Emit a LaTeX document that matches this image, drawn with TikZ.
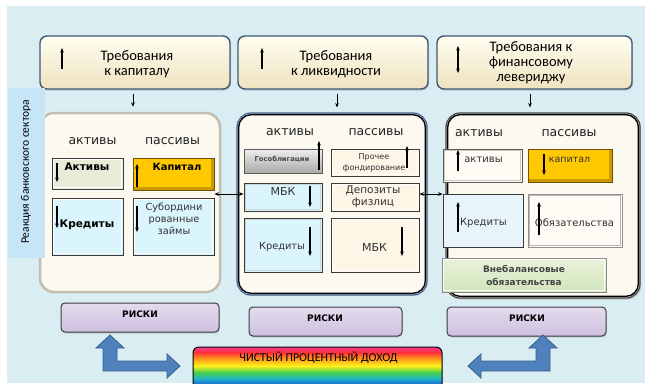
\documentclass[tikz,border=0pt]{standalone}
\usepackage{fontspec}
\setmainfont{DejaVu Sans}
\newfontfamily\calfont{Carlito}
\usetikzlibrary{arrows.meta,fit,shadows}
\definecolor{bgc}{HTML}{DAEDF3}
\definecolor{labc}{HTML}{C6E6F8}
\definecolor{tbd}{HTML}{3F5878}
\definecolor{tbt}{HTML}{FFFDF0}
\definecolor{tbb}{HTML}{EFE3BF}
\definecolor{pnl}{HTML}{FCFAF0}
\definecolor{hdrc}{HTML}{222222}
\definecolor{bxd}{HTML}{3A3A3A}
\definecolor{ntc}{HTML}{333333}
\definecolor{gold}{HTML}{FFC800}
\definecolor{goldb}{HTML}{C99A00}
\definecolor{goldd}{HTML}{6E5400}
\definecolor{cyanb}{HTML}{DBF5FC}
\definecolor{grn1}{HTML}{E7ECD9}
\definecolor{crm}{HTML}{FDF5E6}
\definecolor{wcr}{HTML}{FDFBF3}
\definecolor{lbl}{HTML}{E8F4FC}
\definecolor{gt}{HTML}{EEEEEE}
\definecolor{gb}{HTML}{A9A9A9}
\definecolor{vt}{HTML}{EAF2DC}
\definecolor{vb}{HTML}{D2E4BA}
\definecolor{rkd}{HTML}{3C3C3C}
\definecolor{rkt}{HTML}{E4DCEE}
\definecolor{rkb}{HTML}{CEC0DF}
\definecolor{blkf}{HTML}{4F81BD}
\definecolor{blkd}{HTML}{36608F}
\definecolor{p1d}{HTML}{C2BEAF}
\definecolor{p2d}{HTML}{3F6090}
\definecolor{p3d}{HTML}{454545}
\definecolor{pin}{HTML}{DEDCD4}
\definecolor{dg}{HTML}{5A5A5A}
\definecolor{cbev}{HTML}{C8D4D8}
\definecolor{gtx}{HTML}{4A4A4A}
\definecolor{abev}{HTML}{C8C8C0}
\definecolor{obd}{HTML}{909090}
\definecolor{obev}{HTML}{B8B8B8}
\definecolor{vbd}{HTML}{8A8A8A}
\definecolor{vtx}{HTML}{444444}
\definecolor{rbP}{HTML}{FF3C8F}
\definecolor{rbR}{HTML}{FF2E3A}
\definecolor{rbO}{HTML}{FF9A1A}
\definecolor{rbY}{HTML}{FFF21E}
\definecolor{rbG}{HTML}{47D147}
\definecolor{rbC}{HTML}{1FB5C8}
\definecolor{rbB}{HTML}{1E6FD6}
\pgfdeclareverticalshading{rainbowsh}{100bp}{color(0bp)=(rbB); color(34bp)=(rbB); color(40bp)=(rbC); color(47bp)=(rbG); color(54bp)=(rbY); color(62bp)=(rbO); color(69bp)=(rbR); color(75bp)=(rbP); color(100bp)=(rbP)}
\newcommand\bevel[2]{\draw[#2] ([shift={(2pt,-2pt)}]#1.north west) rectangle ([shift={(-2pt,2pt)}]#1.south east);}
\newcommand\goldbev[1]{\draw[goldb, line width=2.4pt] ([shift={(-1.8pt,-1.2pt)}]#1.north east) -- ([shift={(-1.8pt,1.8pt)}]#1.south east) -- ([shift={(1.2pt,1.8pt)}]#1.south west);}
\tikzset{
 topbox/.style={rounded corners=7pt, draw=tbd, line width=1.4pt, top color=tbt, bottom color=tbb, inner sep=0pt, drop shadow={shadow xshift=1pt,shadow yshift=-1.5pt,opacity=0.35}},
 toptxt/.style={font=\calfont\fontsize{14.5}{15}\selectfont, align=center, text=black},
 panel/.style={rounded corners=14pt, fill=pnl, inner sep=0pt},
 hdr/.style={font=\fontsize{12.5}{14}\selectfont, text=hdrc},
 bx/.style={inner sep=0pt, draw=bxd, line width=0.8pt},
 btxt/.style={font=\bfseries\fontsize{10.5}{12}\selectfont, align=center},
 ntxt/.style={font=\fontsize{10}{12}\selectfont, align=center, text=ntc},
 sarr/.style={line width=1.1pt, -{Stealth[length=4.5pt,width=3.6pt]}},
 conn/.style={line width=1pt, -{Stealth[length=4.5pt,width=3.6pt]}},
 dconn/.style={line width=1pt, {Stealth[length=4.5pt,width=3.6pt]}-{Stealth[length=4.5pt,width=3.6pt]}},
 risk/.style={rounded corners=4pt, draw=rkd, line width=1pt, top color=rkt, bottom color=rkb, inner sep=0pt, drop shadow={shadow xshift=0.5pt,shadow yshift=-1.5pt,opacity=0.3}},
 rtxt/.style={font=\bfseries\fontsize{9}{10}\selectfont},
 blk/.style={fill=blkf, draw=blkd, line width=0.8pt, line join=miter},
}
\begin{document}
\begin{tikzpicture}[x=1pt,y=-1pt]
\useasboundingbox (0,0) rectangle (645,383);
\fill[bgc] (7,6) rectangle (645,383);

% top boxes
\node[topbox, fit={(40,36) (230,89)}] (t1) {};
\node[topbox, fit={(238,36) (428,89)}] (t2) {};
\node[topbox, fit={(437,36) (632,89)}] (t3) {};
\node[toptxt] (t1x) at (137,64.5) {Требования\\к капиталу};
\node[toptxt] (t2x) at (336,64.5) {Требования\\к ликвидности};
\node[toptxt] (t3x) at (531,63) {Требования к\\финансовому\\левериджу};
\draw[sarr] (62,69) -- (62,48);
\draw[sarr] (262,69) -- (262,48);
\draw[line width=1.1pt, {Stealth[length=4.5pt,width=3.6pt]}-{Stealth[length=4.5pt,width=3.6pt]}] (458,46) -- (458,73);

% panels
\node[panel, draw=p1d, line width=2.5pt, fit={(40,113) (220,292)}] (p1) {};
\node[panel, draw=p2d, line width=1.2pt, drop shadow={shadow xshift=1pt,shadow yshift=-1pt,opacity=0.25}, fit={(237,113) (427,295)}] (p2) {};
\node[panel, draw=p3d, line width=1.2pt, drop shadow={shadow xshift=1.2pt,shadow yshift=-1.5pt,opacity=0.35}, fit={(446,113) (640,298)}] (p3) {};
\draw[pin, line width=1.4pt, rounded corners=12.8pt] (238.6,114.6) rectangle (425.4,293.4);
\draw[pin, line width=1.4pt, rounded corners=12.8pt] (447.6,114.6) rectangle (638.4,296.4);

\draw[conn, shorten <=4pt, shorten >=5pt] ([xshift=-2pt]t1.south) -- ([xshift=-2pt]t1.south |- p1.north);
\draw[conn, shorten <=4pt, shorten >=5pt] ([xshift=4pt]t2.south) -- ([xshift=4pt]t2.south |- p2.north);
\draw[conn, shorten <=4pt, shorten >=5pt] ([xshift=-4.5pt]t3.south) -- ([xshift=-4.5pt]t3.south |- p3.north);

% panel 1
\node[hdr] (h1a) at (92.5,141) {активы};
\node[hdr] (h1p) at (172.5,141) {пассивы};
\node[bx, fill=grn1, fit={(52,158) (123,189)}] (a1) {};
\bevel{a1}{white, line width=0.6pt}
\node[btxt] (a1x) at (87,167) {Активы};
\draw[sarr] (57,163) -- (57,182);
\node[bx, draw=goldd, fill=gold, fit={(133,158) (214,190)}] (k1) {};
\goldbev{k1}
\node[btxt, font=\bfseries\fontsize{10}{11}\selectfont] (k1x) at (177,167) {Капитал};
\draw[sarr] (137,187) -- (137,164);
\node[bx, fill=cyanb, fit={(52,198) (123,255)}] (kr1) {};
\bevel{kr1}{white, line width=0.8pt}
\node[btxt] (kr1x) at (87,225) {Кредиты};
\draw[sarr] (57,206) -- (57,228);
\node[bx, fill=cyanb, fit={(133,198) (214,255)}] (s1) {};
\bevel{s1}{white, line width=0.8pt}
\node[ntxt, font=\fontsize{9.8}{12}\selectfont] (s1x) at (174,219) {Субордини\\рованные\\займы};
\draw[sarr] (137,206) -- (137,232);

% panel 2
\node[hdr] (h2a) at (290,132) {активы};
\node[hdr] (h2p) at (376,132) {пассивы};
\node[bx, draw=dg, top color=gt, bottom color=gb, fit={(244,149) (322,173)}] (g2) {};
\node[font=\bfseries\fontsize{6.8}{8}\selectfont, text=gtx] (g2x) at (282,159) {Гособлигации};
\draw[sarr] (319,170) -- (319,141);
\node[bx, fill=crm, fit={(331,149) (419,176)}] (pr2) {};
\bevel{pr2}{white, line width=0.8pt}
\node[font=\fontsize{8}{11}\selectfont, align=center, text=ntc] (pr2x) at (374,163) {Прочее\\фондирование};
\draw[sarr] (407,168) -- (407,146);
\node[bx, fill=cyanb, fit={(244,183) (322,211)}] (m2) {};
\bevel{m2}{cbev, line width=0.8pt}
\node[ntxt, font=\fontsize{11}{12}\selectfont] (m2x) at (283,191) {МБК};
\draw[sarr] (310,186) -- (310,207);
\node[bx, fill=crm, fit={(331,183) (419,211)}] (d2) {};
\bevel{d2}{white, line width=0.8pt}
\node[ntxt, font=\fontsize{10.5}{12}\selectfont] (d2x) at (373,197) {Депозиты\\физлиц};
\node[bx, fill=cyanb, fit={(244,218) (322,272)}] (kr2) {};
\bevel{kr2}{cbev, line width=0.8pt}
\node[ntxt, font=\fontsize{9.8}{11}\selectfont] (kr2x) at (282,247) {Кредиты};
\draw[sarr] (310,227) -- (310,256);
\node[bx, fill=crm, fit={(331,218) (419,272)}] (mb2) {};
\bevel{mb2}{white, line width=0.8pt}
\node[ntxt, font=\fontsize{11}{12}\selectfont] (mb2x) at (374.5,247) {МБК};
\draw[sarr] (402,227) -- (402,256);

% panel 3
\node[hdr] (h3a) at (479,133) {активы};
\node[hdr] (h3p) at (569,133) {пассивы};
\node[bx, draw=dg, fill=wcr, fit={(443,149) (522,182)}] (a3) {};
\bevel{a3}{abev, line width=0.8pt}
\node[ntxt] (a3x) at (483.5,160) {активы};
\draw[sarr] (458,171) -- (458,150);
\node[bx, draw=goldd, fill=gold, fit={(528,149) (612,182)}] (k3) {};
\goldbev{k3}
\node[ntxt, font=\fontsize{9.5}{11}\selectfont] (k3x) at (569.5,160) {капитал};
\draw[sarr] (544,154) -- (544,175);
\node[bx, fill=lbl, fit={(443,194) (523,247)}] (kr3) {};
\node[ntxt] (kr3x) at (483.5,223) {Кредиты};
\draw[sarr] (458,232) -- (458,202);
\node[bx, draw=obd, line width=1pt, fill=wcr, fit={(528,194) (622,247)}] (o3) {};
\bevel{o3}{obev, line width=1.2pt}
\node[ntxt] (o3x) at (574.5,223) {Обязательства};
\draw[sarr] (539,235) -- (539,202);
\node[bx, draw=vbd, line width=1pt, top color=vt, bottom color=vb, fit={(442,258) (606,292)}] (v3) {};
\bevel{v3}{white, line width=0.6pt}
\node[font=\bfseries\fontsize{9}{13}\selectfont, align=center, text=vtx] (v3x) at (524,275) {Внебалансовые\\обязательства};

% connectors between panels
\draw[dconn] ([yshift=3pt]m2.west -| k1.east) -- ([yshift=3pt]m2.west);
\draw[dconn] ([yshift=3pt]d2.east) -- ([yshift=3pt]d2.east -| kr3.west);

% side label
\fill[labc] (8,88) rectangle (45,258);
\node[rotate=90, font=\calfont\fontsize{11.5}{13}\selectfont] (side) at (26,172) {Реакция банковского сектора};

% risks
\node[risk, fit={(61,303) (219,332)}] (r1) {};
\node[risk, fit={(249,307) (402,336)}] (r2) {};
\node[risk, fit={(447,307) (606,336)}] (r3) {};
\node[rtxt] (r1x) at (140,314) {РИСКИ};
\node[rtxt] (r2x) at (325,318) {РИСКИ};
\node[rtxt] (r3x) at (527,318) {РИСКИ};

% net interest income
\node[rounded corners=6pt, draw=black, line width=1pt, shading=rainbowsh, inner sep=0pt, fit={(193,347) (442,392)}] (nii) {};
\node[font=\calfont\fontsize{12}{13}\selectfont] (niix) at (318.5,358) {ЧИСТЫЙ ПРОЦЕНТНЫЙ ДОХОД};

% block arrows
\draw[blk] (110,335) -- (124,348) -- (117,348) -- (117,361) -- (167,361) -- (167,354) -- (180,366) -- (167,378) -- (167,371) -- (103,371) -- (103,348) -- (96,348) -- cycle;
\draw[blk] (543,335) -- (557,348) -- (550,348) -- (550,371) -- (481,371) -- (481,378) -- (468,366) -- (481,354) -- (481,361) -- (536,361) -- (536,348) -- (529,348) -- cycle;
\end{tikzpicture}
\end{document}
